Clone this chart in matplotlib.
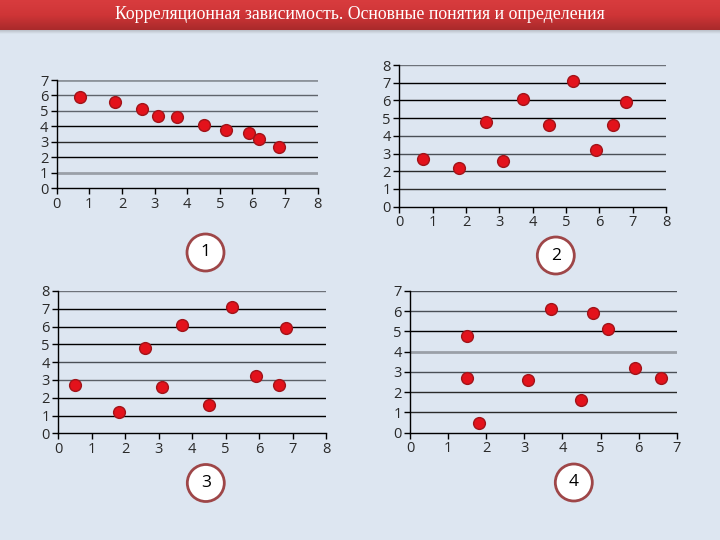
import numpy as np
import matplotlib
matplotlib.use("Agg")
import matplotlib.pyplot as plt
from matplotlib.patches import Circle
from matplotlib.colors import LinearSegmentedColormap

title = "Корреляционная зависимость. Основные понятия и определения"

x1 = [0.7, 1.8, 2.6, 3.1, 3.7, 4.5, 5.2, 5.9, 6.2, 6.8]
y1 = [5.9, 5.6, 5.1, 4.7, 4.6, 4.1, 3.8, 3.6, 3.2, 2.7]

x2 = [0.7, 1.8, 2.6, 3.1, 3.7, 4.5, 5.2, 5.9, 6.4, 6.8]
y2 = [2.7, 2.2, 4.8, 2.6, 6.1, 4.6, 7.1, 3.2, 4.6, 5.9]

x3 = [0.5, 1.8, 2.6, 3.1, 3.7, 4.5, 5.2, 5.9, 6.6, 6.8]
y3 = [2.7, 1.2, 4.8, 2.6, 6.1, 1.6, 7.1, 3.2, 2.7, 5.9]

x4 = [1.5, 1.5, 1.8, 3.1, 3.7, 4.5, 4.8, 5.2, 5.9, 6.6]
y4 = [4.8, 2.7, 0.5, 2.6, 6.1, 1.6, 5.9, 5.1, 3.2, 2.7]

labels = ["1", "2", "3", "4"]

BG = "#dde6f1"
fig = plt.figure(figsize=(7.2, 5.4), dpi=100, facecolor=BG)

# title bar with gradient
tb = fig.add_axes([0, 1 - 30 / 540, 1, 30 / 540])
cmap = LinearSegmentedColormap.from_list("bar", ["#d83c3e", "#cf3537", "#a92a2b"])
grad = np.linspace(0, 1, 64).reshape(-1, 1)
tb.imshow(grad, aspect="auto", cmap=cmap, extent=[0, 1, 0, 1], origin="upper")
tb.set_axis_off()
tb.text(0.5, 0.52, title, color="white", ha="center", va="center",
        fontsize=12.8, family="Liberation Serif", transform=tb.transAxes)
sh = fig.add_axes([0, 1 - 34 / 540, 1, 4 / 540])
cmap2 = LinearSegmentedColormap.from_list("sh", ["#b9bfc7", BG])
sh.imshow(grad, aspect="auto", cmap=cmap2, extent=[0, 1, 0, 1], origin="upper")
sh.set_axis_off()

# (data, xmax, ymax, rect px (left, top, right, bottom), grid colors by y, grid widths)
charts = [
    (x1, y1, 8, 7, (56.7, 80, 317.7, 188.3),
     {7: "#8d939b", 6: "#5f646c", 5: "#5f646c", 4: "#000000", 3: "#2a2a2a", 2: "#000000", 1: "#9aa0a8"},
     {7: 2.0, 1: 2.0}),
    (x2, y2, 8, 8, (399.3, 65, 666, 206.7),
     {8: "#6d727a", 7: "#000000", 6: "#000000", 5: "#000000", 4: "#4a4f56", 3: "#4a4f56", 2: "#2a2a2a", 1: "#2a2a2a"},
     {}),
    (x3, y3, 8, 8, (58.3, 291, 326, 433.3),
     {8: "#6d727a", 7: "#000000", 6: "#000000", 5: "#000000", 4: "#4a4f56", 3: "#5a5f66", 2: "#000000", 1: "#000000"},
     {}),
    (x4, y4, 7, 7, (410, 291, 676.7, 432.7),
     {7: "#4a4f56", 6: "#4a4f56", 5: "#000000", 4: "#9aa0a8", 3: "#4a4f56", 2: "#2a2a2a", 1: "#2a2a2a"},
     {4: 2.0}),
]
circles = [(205.5, 252.5), (555.8, 255.5), (205.8, 483), (573.8, 482.5)]

W, H = 720, 540
for (xs, ys, xmax, ymax, (l, t, r, b), gcol, gw), lab, (cx, cy) in zip(charts, labels, circles):
    ax = fig.add_axes([l / W, 1 - b / H, (r - l) / W, (b - t) / H])
    ax.set_facecolor(BG)
    ax.set_xlim(0, xmax)
    ax.set_ylim(0, ymax)
    for yv in range(1, ymax + 1):
        ax.axhline(yv, color=gcol.get(yv, "#333333"), lw=gw.get(yv, 1.0), zorder=1)
    ax.scatter(xs, ys, s=72, color="#e3121b", edgecolor="#a11419", linewidth=1.0, zorder=3, clip_on=False)
    ax.set_xticks(range(0, xmax + 1))
    ax.set_yticks(range(0, ymax + 1))
    for s in ["top", "right"]:
        ax.spines[s].set_visible(False)
    for s in ["left", "bottom"]:
        ax.spines[s].set_color("black")
        ax.spines[s].set_linewidth(1.0)
    ax.tick_params(axis="both", length=4, width=1, color="black", labelsize=10.5,
                   labelcolor="#2a2a2a", pad=2)
    for tl in ax.get_xticklabels() + ax.get_yticklabels():
        tl.set_family("Open Sans")
    # circled number
    cax = fig.add_axes([(cx - 22) / W, 1 - (cy + 22) / H, 44 / W, 44 / H])
    cax.set_xlim(-22, 22)
    cax.set_ylim(-22, 22)
    cax.set_aspect("equal")
    cax.set_axis_off()
    cax.add_patch(Circle((0, 0), 18.5, facecolor="white", edgecolor="#9e4648", linewidth=2.0))
    cax.text(0, 0, lab, ha="center", va="center", fontsize=12.5, family="Open Sans", color="black")

fig.savefig("out.png", dpi=100, facecolor=BG)
